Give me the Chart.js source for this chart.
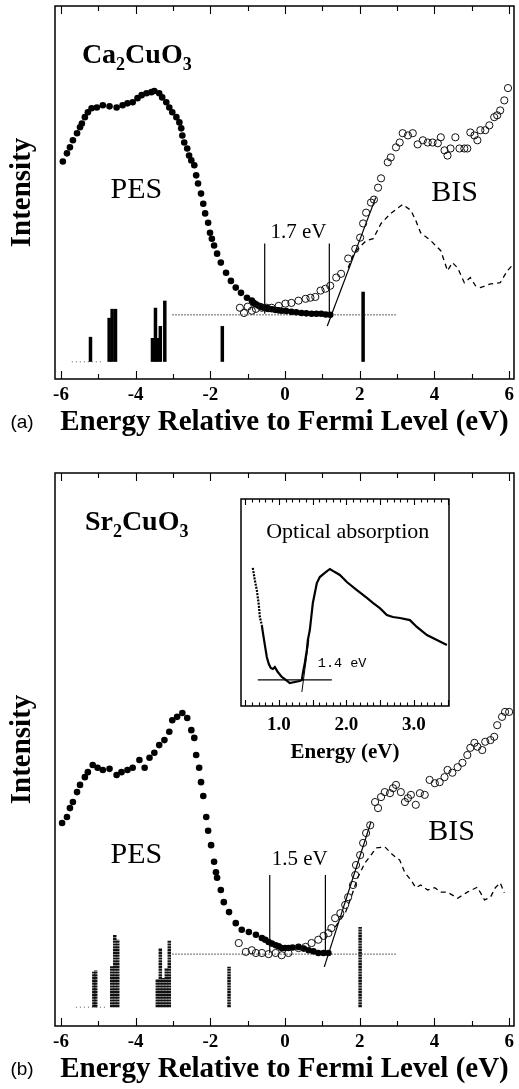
<!DOCTYPE html>
<html>
<head>
<meta charset="utf-8">
<script src="https://cdn.jsdelivr.net/npm/chart.js@4.4.1/dist/chart.umd.min.js"></script>
<style>
  html, body { margin: 0; padding: 0; background: #fff; }
  #wrap { position: relative; width: 519px; height: 1089px; overflow: hidden; }
  canvas { position: absolute; }
</style>
</head>
<body>
<div id="wrap">
  <canvas id="caChart" width="519" height="440" style="left:0;top:0;width:519px;height:440px"></canvas>
  <canvas id="srChart" width="519" height="649" style="left:0;top:440px;width:519px;height:649px"></canvas>
  <canvas id="optChart" width="225" height="275" style="left:230px;top:495px;width:225px;height:275px"></canvas>
</div>
<script>
// ---- axis ticks ----
const energyTicks = [-6, -5, -4, -3, -2, -1, 0, 1, 2, 3, 4, 5, 6];
const energyTickLabels = ['-6', '', '-4', '', '-2', '', '0', '', '2', '', '4', '', '6'];
const optTicks = [1.0, 2.0, 3.0];
const optTickLabels = ['1.0', '2.0', '3.0'];

// ---- (a) Ca2CuO3, energy (eV) vs intensity (arb. units 0-100) ----
const caPES = [[-5.95,58.3],[-5.84,60.5],[-5.76,62.1],[-5.68,64.0],[-5.57,65.9],[-5.49,67.5],[-5.44,68.5],[-5.36,70.2],[-5.28,71.5],[-5.18,72.6],[-5.04,72.8],[-4.88,73.4],[-4.70,73.1],[-4.51,72.8],[-4.35,73.4],[-4.22,73.9],[-4.08,74.2],[-3.95,75.3],[-3.84,76.1],[-3.71,76.6],[-3.58,76.9],[-3.50,77.2],[-3.37,76.6],[-3.29,75.5],[-3.18,74.2],[-3.10,72.8],[-3.02,71.5],[-2.91,70.2],[-2.83,68.8],[-2.78,67.2],[-2.75,65.3],[-2.70,63.4],[-2.62,61.8],[-2.57,59.9],[-2.51,58.6],[-2.43,57.3],[-2.38,54.6],[-2.33,52.4],[-2.25,49.7],[-2.19,47.0],[-2.14,44.4],[-2.06,41.9],[-2.01,39.2],[-1.96,37.6],[-1.90,35.8],[-1.82,33.6],[-1.72,31.2],[-1.58,28.5],[-1.45,26.3],[-1.32,24.5],[-1.18,23.1],[-1.02,21.8],[-0.89,21.0],[-0.84,20.4],[-0.78,20.0],[-0.70,19.6],[-0.64,19.4],[-0.57,19.1],[-0.50,19.0],[-0.44,18.8],[-0.35,18.7],[-0.25,18.5],[-0.17,18.4],[-0.09,18.3],[0.03,18.2],[0.17,18.0],[0.30,17.9],[0.44,17.7],[0.57,17.6],[0.71,17.5],[0.84,17.5],[0.97,17.5],[1.09,17.3],[1.21,17.2]];
const caBIS = [[-1.21,19.1],[-1.10,17.7],[-1.00,19.4],[-0.89,18.3],[-0.78,18.8],[-0.62,19.1],[-0.49,19.1],[-0.36,19.1],[-0.17,19.6],[0.01,20.2],[0.17,20.4],[0.36,21.0],[0.55,21.5],[0.68,21.8],[0.81,22.0],[0.95,23.7],[1.08,24.2],[1.21,25.0],[1.37,27.2],[1.50,28.2],[1.69,32.3],[1.88,34.9],[2.01,37.9],[2.09,41.7],[2.17,44.6],[2.30,47.3],[2.38,48.1],[2.49,51.3],[2.57,53.8],[2.75,58.1],[2.83,59.4],[2.97,62.1],[3.07,63.4],[3.15,65.9],[3.29,65.3],[3.42,65.9],[3.55,62.9],[3.69,64.0],[3.82,63.4],[3.95,63.4],[4.09,63.2],[4.17,64.8],[4.27,61.3],[4.35,59.9],[4.43,61.8],[4.56,64.8],[4.67,61.8],[4.80,61.8],[4.88,61.8],[4.96,66.1],[5.07,65.3],[5.15,64.0],[5.23,66.7],[5.36,66.7],[5.47,68.0],[5.60,70.2],[5.68,70.7],[5.76,72.0],[5.87,74.7],[5.97,78.0]];
const caCalc = [[1.69,29.8],[1.82,33.1],[1.95,34.9],[2.17,37.1],[2.36,37.6],[2.57,41.7],[2.83,44.4],[3.15,46.8],[3.37,45.2],[3.50,42.5],[3.63,39.2],[3.90,37.1],[4.17,34.4],[4.35,29.0],[4.48,31.2],[4.62,29.8],[4.80,25.8],[4.96,27.2],[5.10,25.0],[5.23,24.5],[5.50,25.5],[5.76,25.8],[5.95,29.0],[6.08,30.4]];
const caEdgeFit = [[1.13,14.2],[2.43,48.7]];
const caGapMarks = [-0.545, 1.185];
const caGapSpan = [17.5, 36.3];
const caFermiLine = [[-3.02,17.2],[2.97,17.2]];
const caBarE = [-5.21,-4.71,-4.63,-4.54,-3.55,-3.47,-3.42,-3.34,-3.22,-1.68,2.09];
const caBarTop = [11.3,16.4,18.8,18.8,11.0,19.1,11.0,14.2,21.0,14.2,23.4];
const caBarBase = 4.6;
const caBaseDots = [[-5.71,4.6],[-4.90,4.6]];

// ---- (b) Sr2CuO3 ----
const srPES = [[-5.97,36.7],[-5.84,37.8],[-5.76,39.4],[-5.68,40.5],[-5.57,42.3],[-5.49,43.6],[-5.36,45.0],[-5.28,45.9],[-5.15,47.2],[-5.02,46.7],[-4.88,46.3],[-4.70,46.5],[-4.51,45.4],[-4.38,45.9],[-4.22,46.3],[-4.08,46.7],[-3.90,48.1],[-3.76,46.7],[-3.63,48.5],[-3.50,49.4],[-3.37,50.8],[-3.23,51.7],[-3.10,53.2],[-3.02,55.3],[-2.89,55.9],[-2.75,56.6],[-2.62,55.7],[-2.51,53.5],[-2.43,52.1],[-2.38,49.0],[-2.30,46.7],[-2.25,44.1],[-2.19,41.6],[-2.11,37.8],[-2.06,35.3],[-1.98,32.7],[-1.90,29.7],[-1.85,27.8],[-1.82,26.8],[-1.72,24.6],[-1.64,22.4],[-1.50,20.6],[-1.32,18.6],[-1.16,17.4],[-0.97,17.0],[-0.78,16.5],[-0.62,15.9],[-0.53,15.6],[-0.44,15.2],[-0.35,14.9],[-0.25,14.6],[-0.17,14.4],[-0.09,14.1],[0.00,14.1],[0.09,14.1],[0.20,14.2],[0.36,14.3],[0.50,14.0],[0.63,13.7],[0.76,13.5],[0.89,13.2],[1.03,13.2],[1.16,13.2]];
const srBIS = [[-1.24,15.0],[-1.05,13.4],[-0.89,13.7],[-0.78,13.2],[-0.62,13.2],[-0.44,13.0],[-0.25,13.2],[-0.09,12.8],[0.09,13.2],[0.36,14.1],[0.55,14.3],[0.71,15.0],[0.89,15.6],[1.03,16.3],[1.16,16.8],[1.24,17.7],[1.34,19.5],[1.48,20.4],[1.61,21.9],[1.69,23.3],[1.82,25.5],[1.88,27.3],[1.90,29.1],[2.01,30.9],[2.09,33.1],[2.17,34.9],[2.28,36.3],[2.41,40.5],[2.49,39.4],[2.57,41.4],[2.67,42.3],[2.81,42.1],[2.89,43.0],[2.97,43.6],[3.10,42.3],[3.21,40.5],[3.29,41.2],[3.37,41.8],[3.50,40.0],[3.61,42.1],[3.74,41.8],[3.87,44.5],[4.01,43.9],[4.14,44.1],[4.27,45.0],[4.35,46.3],[4.48,45.8],[4.62,46.8],[4.75,47.6],[4.88,49.0],[4.96,50.3],[5.07,51.2],[5.15,50.5],[5.28,49.9],[5.36,51.4],[5.50,51.7],[5.60,52.3],[5.68,54.4],[5.81,55.9],[5.89,56.8],[6.00,56.8]];
const srCalc = [[1.34,17.9],[1.61,20.4],[1.77,23.3],[1.95,26.9],[2.14,29.5],[2.30,30.9],[2.44,32.2],[2.67,32.4],[2.89,30.9],[3.07,30.0],[3.21,27.7],[3.37,26.4],[3.50,25.0],[3.63,25.5],[3.82,24.6],[4.01,25.0],[4.17,24.2],[4.35,24.2],[4.62,23.1],[4.88,24.2],[5.15,25.1],[5.34,22.8],[5.50,23.3],[5.63,25.0],[5.76,25.9],[5.87,24.1]];
const srEdgeFit = [[1.05,10.7],[2.30,36.9]];
const srGapMarks = [-0.41, 1.08];
const srGapSpan = [13.2, 27.3];
const srFermiLine = [[-3.02,13.0],[2.97,13.0]];
const srBarE = [-5.12,-5.07,-4.64,-4.56,-4.48,-3.42,-3.34,-3.26,-3.18,-3.10,-1.50,2.01];
const srBarTop = [9.8,10.1,10.8,16.5,15.6,8.5,14.1,8.7,10.5,15.4,10.7,17.9];
const srBarBase = 3.4;
const srBaseDots = [[-5.60,3.4],[-4.75,3.4]];

// ---- inset: optical absorption of Sr2CuO3 ----
const optAbs = [[0.615,66.7],[0.644,60.9],[0.674,56.0],[0.704,48.8],[0.719,43.0],[0.748,39.1],[0.763,35.7],[0.793,29.5],[0.822,23.7],[0.852,20.3],[0.881,18.4],[0.911,17.9],[0.941,18.8],[0.985,16.4],[1.044,14.0],[1.089,13.0],[1.163,11.1],[1.237,11.6],[1.311,12.1],[1.341,12.6],[1.356,15.9],[1.385,20.8],[1.415,27.1],[1.430,31.9],[1.459,36.7],[1.504,49.8],[1.563,59.4],[1.607,62.3],[1.681,64.3],[1.756,66.2],[1.830,64.7],[1.904,63.3],[2.007,59.9],[2.156,56.0],[2.304,52.2],[2.393,49.8],[2.496,47.3],[2.600,44.0],[2.689,43.0],[2.793,42.5],[2.941,41.5],[3.044,38.2],[3.193,34.3],[3.341,31.9],[3.489,29.5]];
const optBase = [[0.689,12.6],[1.785,12.6]];
const optFit = [[1.341,6.8],[1.444,31.9]];

// ---- text labels (data coordinates) ----
const caTexts = [
  { text: 'PES', x: -3.98, y: 48.4 },
  { text: 'BIS', x: 4.54, y: 47.8 },
  { text: '1.7 eV', x: 0.36, y: 37.9, small: true }
];
const srTexts = [
  { text: 'PES', x: -3.98, y: 29.5 },
  { text: 'BIS', x: 4.46, y: 33.6 },
  { text: '1.5 eV', x: 0.39, y: 29.1, small: true }
];

const SERIF = '"Liberation Serif", "Times New Roman", serif';
const pts = arr => arr.map(([x, y]) => ({ x, y }));

// frame box + inward tick marks on top and bottom edges
const framePlugin = {
  id: 'frame',
  beforeDatasetsDraw(chart, args, o) {
    if (!o.fill) return;
    const a = chart.chartArea;
    chart.ctx.save();
    chart.ctx.fillStyle = '#fff';
    chart.ctx.fillRect(a.left, a.top, a.right - a.left, a.bottom - a.top);
    chart.ctx.restore();
  },
  afterDatasetsDraw(chart, args, o) {
    const { ctx, chartArea: a } = chart;
    const x = chart.scales.x;
    ctx.save();
    ctx.strokeStyle = '#000';
    ctx.lineWidth = o.width;
    ctx.strokeRect(a.left, a.top, a.right - a.left, a.bottom - a.top);
    ctx.lineWidth = 1.1;
    const marks = o.minor.map(v => [v, o.minorLen]).concat(o.major.map(v => [v, o.majorLen]));
    marks.forEach(([v, len]) => {
      const px = Math.round(x.getPixelForValue(v)) + 0.5;
      ctx.beginPath();
      ctx.moveTo(px, a.bottom); ctx.lineTo(px, a.bottom - len);
      ctx.moveTo(px, a.top); ctx.lineTo(px, a.top + len);
      ctx.stroke();
    });
    ctx.restore();
  }
};

// free text: formula with subscripts, in-plot labels, panel tag
const textPlugin = {
  id: 'texts',
  afterDraw(chart, args, o) {
    const { ctx } = chart;
    const x = chart.scales.x, y = chart.scales.y;
    ctx.save();
    ctx.fillStyle = '#000';
    ctx.textBaseline = 'alphabetic';
    (o.items || []).forEach(it => {
      ctx.font = it.small ? o.smallFont : o.font;
      ctx.textAlign = it.align || 'center';
      ctx.fillText(it.text, x.getPixelForValue(it.x), y.getPixelForValue(it.y));
    });
    if (o.formula) {
      let px = x.getPixelForValue(o.formula.x);
      const py = y.getPixelForValue(o.formula.y);
      ctx.textAlign = 'left';
      o.formula.parts.forEach(([t, sub]) => {
        ctx.font = sub ? 'bold 18px ' + SERIF : 'bold 28px ' + SERIF;
        ctx.fillText(t, px, py + (sub ? 7 : 0));
        px += ctx.measureText(t).width;
      });
    }
    if (o.tag) {
      ctx.font = '19px "Liberation Sans", Arial, sans-serif';
      ctx.textAlign = 'center';
      ctx.textBaseline = 'middle';
      ctx.fillText(o.tag, 22, x.bottom - 17.4);
    }
    ctx.restore();
  }
};

function lineDs(data, extra) {
  return Object.assign({ data: pts(data), showLine: true, pointRadius: 0, borderColor: '#000', borderWidth: 1, fill: false }, extra);
}

function panelDatasets(p) {
  const ds = [];
  ds.push({ data: pts(p.bis), pointRadius: 3.6, pointBorderWidth: 1, pointBorderColor: '#111', pointBackgroundColor: 'rgba(255,255,255,0)', showLine: false });
  ds.push({ data: pts(p.pes), pointRadius: 3.3, pointBorderWidth: 0, pointBackgroundColor: '#000', showLine: false });
  ds.push(lineDs(p.calc, { borderDash: [5, 4], borderWidth: 1.3 }));
  ds.push(lineDs(p.fit, { borderWidth: 1.2 }));
  p.marks.forEach(e => ds.push(lineDs([[e, p.span[0]], [e, p.span[1]]], { borderWidth: 1.2 })));
  ds.push(lineDs(p.fermi, { borderDash: [1.5, 1.5], borderWidth: 1, borderColor: '#333' }));
  ds.push(lineDs(p.baseDots, { borderDash: [1, 3], borderWidth: 1, borderColor: '#555' }));
  p.barE.forEach((e, i) => ds.push(lineDs([[e, p.barBase], [e, p.barTop[i]]], {
    borderWidth: 3.5, borderCapStyle: 'butt', borderColor: p.barColor, borderDash: p.barDash
  })));
  return ds;
}

function panelConfig(p) {
  return {
    type: 'scatter',
    data: { datasets: panelDatasets(p) },
    plugins: [framePlugin, textPlugin],
    options: {
      responsive: false, animation: false, events: [],
      layout: { padding: { left: 0, right: 2, top: p.padTop, bottom: p.padBottom } },
      plugins: {
        legend: { display: false }, tooltip: { enabled: false },
        frame: { width: 1.5, major: energyTicks.filter(v => v % 2 === 0), minor: energyTicks.filter(v => v % 2 !== 0), majorLen: 8, minorLen: 5 },
        texts: { items: p.texts, font: '30px ' + SERIF, smallFont: '21px ' + SERIF, formula: p.formula, tag: p.tag }
      },
      scales: {
        x: {
          type: 'linear', min: -6.16, max: 6.13,
          afterBuildTicks: s => { s.ticks = energyTicks.map(v => ({ value: v })); },
          afterFit: s => { s.height = p.axisHeight; },
          grid: { display: false, drawTicks: false },
          border: { display: false },
          ticks: { autoSkip: false, maxRotation: 0, padding: p.tickPad, color: '#000',
            font: { family: SERIF, size: 19, weight: 'bold' },
            callback: (v, i) => energyTickLabels[i] },
          title: { display: true, text: 'Energy Relative to Fermi Level (eV)', color: '#000',
            font: { family: SERIF, size: 29, weight: 'bold' }, padding: { top: 0, bottom: 0 } }
        },
        y: {
          type: 'linear', min: 0, max: 100,
          afterFit: s => { s.width = 55; },
          grid: { display: false, drawTicks: false },
          border: { display: false },
          ticks: { display: false },
          title: { display: true, text: 'Intensity', color: '#000',
            font: { family: SERIF, size: 29, weight: 'bold' }, padding: { top: 5, bottom: 0 } }
        }
      }
    }
  };
}

new Chart(document.getElementById('caChart'), panelConfig({
  pes: caPES, bis: caBIS, calc: caCalc, fit: caEdgeFit, marks: caGapMarks, span: caGapSpan,
  fermi: caFermiLine, baseDots: caBaseDots, barE: caBarE, barTop: caBarTop, barBase: caBarBase,
  barColor: '#000', barDash: [],
  texts: caTexts, tag: '(a)',
  formula: { x: -5.44, y: 84.7, parts: [['Ca', 0], ['2', 1], ['CuO', 0], ['3', 1]] },
  padTop: 6, padBottom: 0, axisHeight: 61, tickPad: 5
}));

new Chart(document.getElementById('srChart'), panelConfig({
  pes: srPES, bis: srBIS, calc: srCalc, fit: srEdgeFit, marks: srGapMarks, span: srGapSpan,
  fermi: srFermiLine, baseDots: srBaseDots, barE: srBarE, barTop: srBarTop, barBase: srBarBase,
  barColor: '#111', barDash: [2.2, 0.6],
  texts: srTexts, tag: '(b)',
  formula: { x: -5.36, y: 89.7, parts: [['Sr', 0], ['2', 1], ['CuO', 0], ['3', 1]] },
  padTop: 33, padBottom: 2, axisHeight: 61, tickPad: 5
}));

// inset
const optMinor = [], optMajor = [];
for (let k = 5; k <= 35; k++) (k % 5 === 0 ? optMajor : optMinor).push(k / 10);

new Chart(document.getElementById('optChart'), {
  type: 'scatter',
  data: {
    datasets: [
      lineDs(optAbs, { borderWidth: 2.2, segment: { borderDash: c => c.p0.parsed.x < 0.72 ? [2, 1.2] : undefined } }),
      lineDs(optBase, { borderWidth: 1.2 }),
      lineDs(optFit, { borderWidth: 1 })
    ]
  },
  plugins: [framePlugin, textPlugin],
  options: {
    responsive: false, animation: false, events: [],
    layout: { padding: { left: 11, right: 6, top: 4, bottom: 0 } },
    plugins: {
      legend: { display: false }, tooltip: { enabled: false },
      frame: { width: 1.5, fill: true, major: optMajor, minor: optMinor, majorLen: 6, minorLen: 3.5 },
      texts: {
        items: [
          { text: 'Optical absorption', x: 2.02, y: 81.2 },
          { text: '1.4 eV', x: 1.578, y: 18.8, align: 'left', small: true }
        ],
        font: '22px ' + SERIF, smallFont: '13.5px "Liberation Mono", "Courier New", monospace'
      }
    },
    scales: {
      x: {
        type: 'linear', min: 0.44, max: 3.52,
        afterBuildTicks: s => { s.ticks = optTicks.map(v => ({ value: v })); },
        afterFit: s => { s.height = 64; },
        grid: { display: false, drawTicks: false },
        border: { display: false },
        ticks: { autoSkip: false, maxRotation: 0, padding: 8, color: '#000',
          font: { family: SERIF, size: 19, weight: 'bold' },
          callback: (v, i) => optTickLabels[i] },
        title: { display: true, text: 'Energy (eV)', color: '#000',
          font: { family: SERIF, size: 21, weight: 'bold' }, padding: { top: 0, bottom: 5 } }
      },
      y: { type: 'linear', min: 0, max: 100, display: false }
    }
  }
});
</script>
</body>
</html>
